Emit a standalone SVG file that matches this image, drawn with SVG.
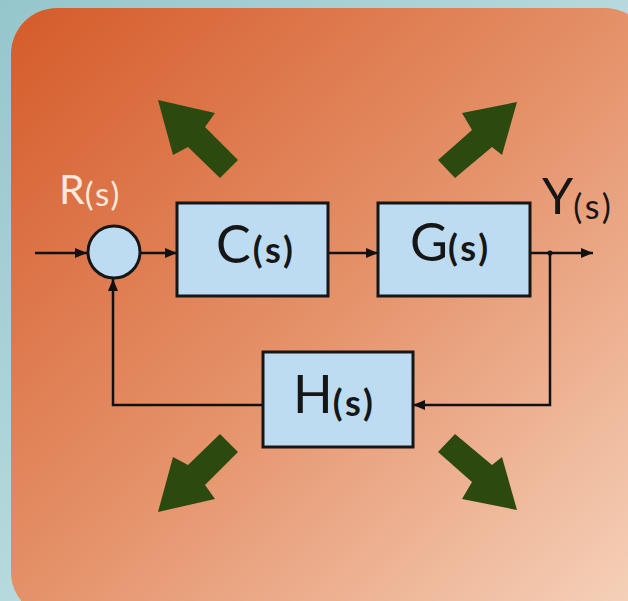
<svg xmlns="http://www.w3.org/2000/svg" width="628" height="601" viewBox="0 0 628 601">
<defs>
<linearGradient id="bg" x1="0" y1="0" x2="1" y2="1">
<stop offset="0" stop-color="#95c6cc"/>
<stop offset="1" stop-color="#d8ecee"/>
</linearGradient>
<linearGradient id="panel" x1="0" y1="0" x2="1" y2="1">
<stop offset="0" stop-color="#d55b2a"/>
<stop offset="0.5" stop-color="#e5926a"/>
<stop offset="1" stop-color="#f6d4be"/>
</linearGradient>
<marker id="ah" markerUnits="userSpaceOnUse" markerWidth="14" markerHeight="12" refX="12" refY="6" orient="auto">
<path d="M0,1 L12,6 L0,11 Z" fill="#111"/>
</marker>
<style>
.blk{fill:#bddcf2;stroke:#161616;stroke-width:3}
.wire{fill:none;stroke:#111;stroke-width:2.5}
.big{font-family:Lato,"Open Sans",sans-serif;font-size:52px;fill:#161616}
.sub{font-family:Lato,"Open Sans",sans-serif;font-size:36px;font-weight:bold;letter-spacing:3px}
.ga{fill:#2c4a10}
</style>
</defs>
<rect x="0" y="0" width="628" height="601" fill="url(#bg)"/>
<rect x="11" y="8" width="640" height="610" rx="46" fill="url(#panel)"/>

<g id="decor">
<polygon class="ga" points="158,100 215,113 205,127 238,160 220,178 188,147 173,155"/>
<polygon class="ga" points="517,102 462,113 472,130 438,160 455,178 492,147 502,155"/>
<polygon class="ga" points="158,512 215,499 205,485 238,452 220,434 188,465 173,457"/>
<polygon class="ga" points="517,510 462,499 472,482 438,452 455,434 492,465 502,457"/>
</g>

<g id="connectors">
<line class="wire" x1="35" y1="253" x2="87" y2="253" marker-end="url(#ah)"/>
<line class="wire" x1="140" y1="253" x2="177" y2="253" marker-end="url(#ah)"/>
<line class="wire" x1="328" y1="253" x2="378" y2="253" marker-end="url(#ah)"/>
<line class="wire" x1="530" y1="253" x2="593" y2="253" marker-end="url(#ah)"/>
<path class="wire" d="M550,253 V405 H413" marker-end="url(#ah)"/>
<path class="wire" d="M263,405 H113 V279" marker-end="url(#ah)"/>
<circle cx="550" cy="253" r="2.5" fill="#111"/>
</g>

<g id="sum">
<circle class="blk" cx="114" cy="252" r="26" stroke-width="2.5"/>
</g>

<g id="C">
<rect class="blk" x="177" y="203" width="151" height="93"/>
<text class="big" x="216" y="263">C<tspan class="sub" dx="2">(s)</tspan></text>
</g>

<g id="G">
<rect class="blk" x="378" y="203" width="152" height="93"/>
<text class="big" x="410" y="261">G<tspan class="sub">(s)</tspan></text>
</g>

<g id="H">
<rect class="blk" x="263" y="352" width="150" height="95"/>
<text class="big" x="293" y="413">H<tspan class="sub" dy="3">(s)</tspan></text>
</g>

<g id="labels">
<text x="59" y="204" style="font-family:Lato,'Open Sans',sans-serif;font-size:41px;fill:#fbe9de">R<tspan style="font-size:33px;letter-spacing:2px" dy="2">(s)</tspan></text>
<text x="542" y="214" style="font-family:Lato,'Open Sans',sans-serif;font-size:50px;fill:#161616">Y<tspan style="font-size:34px;letter-spacing:3px" dy="5">(s)</tspan></text>
</g>
</svg>
